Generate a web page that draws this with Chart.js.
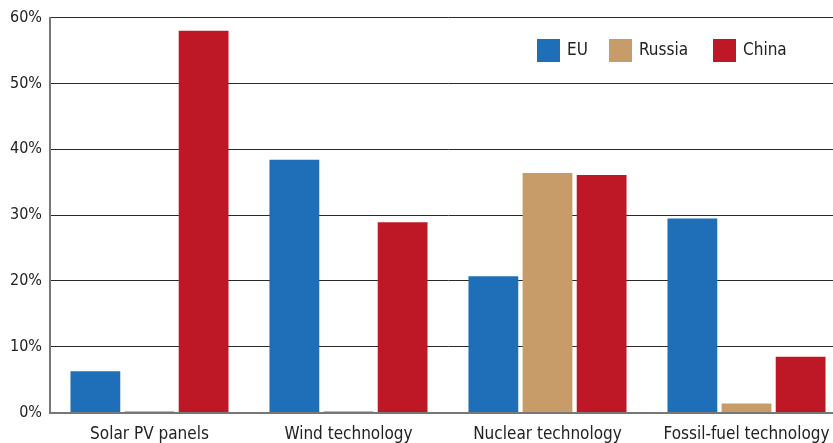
<!DOCTYPE html>
<html>
<head>
<meta charset="utf-8">
<script src="https://cdn.jsdelivr.net/npm/chart.js@4"></script>
<style>
    body { margin: 0; background: #fff; overflow: hidden; }
    #wrap { width: 846px; height: 449px; position: relative; }
</style>
</head>
<body>
<div id="wrap"><canvas id="chart"></canvas></div>
<script>
// Chart data
const categories = ['Solar PV panels', 'Wind technology', 'Nuclear technology', 'Fossil-fuel technology'];
const euValues = [6.3, 38.4, 20.7, 29.5];
const russiaValues = [0.2, 0.2, 36.4, 1.4];
const chinaValues = [58.0, 28.9, 36.1, 8.5];
const yTicks = [0, 10, 20, 30, 40, 50, 60];

const FONT = "'Liberation Sans Narrow', 'DejaVu Sans Condensed', sans-serif";

// Legend drawn inside the plot area (top right)
const insideLegend = {
    id: 'insideLegend',
    afterDraw(chart) {
        const ctx = chart.ctx;
        const items = chart.data.datasets;
        const xs = [537, 609, 713];
        ctx.save();
        ctx.font = '17px ' + FONT;
        ctx.textBaseline = 'middle';
        items.forEach((ds, i) => {
            ctx.fillStyle = ds.backgroundColor;
            ctx.fillRect(xs[i], 39, 23, 23);
            ctx.fillStyle = '#222';
            ctx.fillText(ds.label, xs[i] + 30, 51);
        });
        ctx.restore();
    }
};

new Chart(document.getElementById('chart'), {
    type: 'bar',
    data: {
        labels: categories,
        datasets: [
            { label: 'EU', data: euValues, backgroundColor: '#1f6fb8' },
            { label: 'Russia', data: russiaValues, backgroundColor: '#c89c68' },
            { label: 'China', data: chinaValues, backgroundColor: '#be1826' }
        ]
    },
    options: {
        responsive: true,
        maintainAspectRatio: false,
        animation: false,
        datasets: { bar: { categoryPercentage: 0.816, barPercentage: 0.92 } },
        layout: { padding: { top: 11, left: 2, right: 0, bottom: 0 } },
        plugins: {
            legend: { display: false },
            tooltip: { enabled: false }
        },
        scales: {
            x: {
                grid: { display: false },
                border: { display: true, color: '#777', width: 2 },
                ticks: { color: '#222', font: { family: FONT, size: 17 }, padding: 4, maxRotation: 0 }
            },
            y: {
                min: 0, max: 60,
                afterBuildTicks: axis => { axis.ticks = yTicks.map(v => ({ value: v })); },
                grid: { color: '#2a2a2a', drawTicks: false, lineWidth: 1 },
                border: { display: true, color: '#777', width: 2 },
                ticks: { color: '#222', font: { family: FONT, size: 16 }, padding: 8, callback: v => v + '%' }
            }
        }
    },
    plugins: [insideLegend]
});
</script>
</body>
</html>
